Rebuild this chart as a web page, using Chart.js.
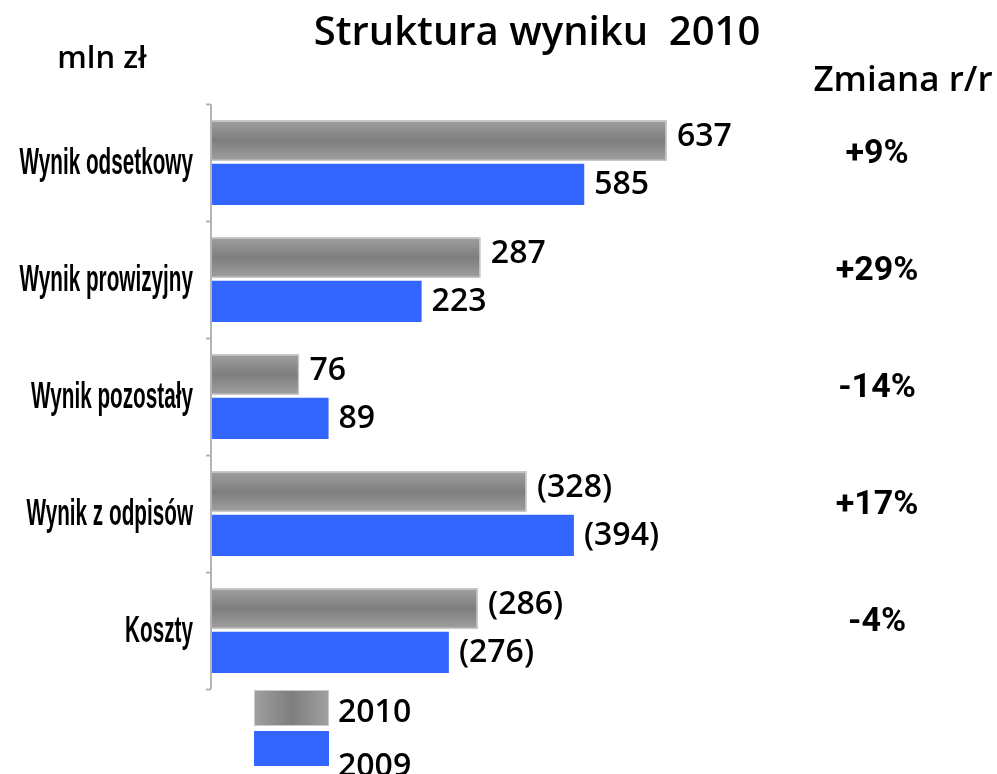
<!DOCTYPE html>
<html>
<head>
<meta charset="utf-8">
<script src="https://cdn.jsdelivr.net/npm/chart.js@4"></script>
<style>
    html, body { margin: 0; padding: 0; background: #fff; }
    #chart { display: block; }
</style>
</head>
<body>
<canvas id="chart" width="997" height="774"></canvas>
<script>
// Dane (mln zł)
const categories = ['Wynik odsetkowy', 'Wynik prowizyjny', 'Wynik pozostały', 'Wynik z odpisów', 'Koszty'];
const values2010 = [637, 287, 76, -328, -286];
const values2009 = [585, 223, 89, -394, -276];
// długości słupków tak jak na rysunku (nie są w skali wartości)
const barLen2010 = [484, 286, 93, 335, 283];
const barLen2009 = [396, 223, 124, 385, 252];
const changes = ['+9%', '+29%', '-14%', '+17%', '-4%'];
const seriesNames = ['2010', '2009'];

const BLUE = '#3366ff';

function fmt(v) {
    return v < 0 ? '(' + Math.abs(v) + ')' : String(v);
}

// gradient szarego słupka
function greyGradient(ctx, x0, y0, x1, y1) {
    const g = ctx.createLinearGradient(x0, y0, x1, y1);
    g.addColorStop(0, '#a0a0a0');
    g.addColorStop(0.5, '#7e7e7e');
    g.addColorStop(1, '#a0a0a0');
    return g;
}

const textPlugin = {
    id: 'textPlugin',
    beforeDatasetsDraw(chart) {
        const ctx = chart.ctx;
        // każdy szary słupek dostaje własny gradient
        chart.getDatasetMeta(0).data.forEach(el => {
            const g = greyGradient(ctx, 0, el.y - el.height / 2, 0, el.y + el.height / 2);
            el.options = Object.assign({}, el.options, { backgroundColor: g });
        });
    },
    afterDraw(chart) {
        const ctx = chart.ctx;
        const yScale = chart.scales.y;
        const area = chart.chartArea;
        ctx.save();

        // oś pionowa z kreskami
        const band = (area.bottom - area.top) / categories.length;
        ctx.strokeStyle = '#b4b4b4';
        ctx.lineWidth = 2;
        ctx.beginPath();
        ctx.moveTo(area.left - 1, area.top);
        ctx.lineTo(area.left - 1, area.bottom);
        for (let i = 0; i <= categories.length; i++) {
            const y = Math.round(area.top + i * band) + 0.5;
            ctx.moveTo(area.left - 6, y);
            ctx.lineTo(area.left - 1, y);
        }
        ctx.stroke();

        ctx.fillStyle = '#000';

        // tytuł i nagłówki
        ctx.textBaseline = 'alphabetic';
        ctx.textAlign = 'center';
        ctx.font = '600 40px "Open Sans"';
        ctx.fillText('Struktura wyniku  2010', 537, 45);
        ctx.font = '600 31px "Open Sans"';
        ctx.fillText('mln zł', 102, 68);
        ctx.font = '600 35px "Open Sans"';
        ctx.fillText('Zmiana r/r', 903, 91);

        // etykiety kategorii (wąskie, wydłużone)
        ctx.textAlign = 'right';
        ctx.textBaseline = 'middle';
        ctx.font = 'bold 37px "Liberation Sans"';
        categories.forEach((c, i) => {
            const y = yScale.getPixelForValue(i);
            ctx.save();
            ctx.translate(area.left - 19, y + 1);
            ctx.scale(0.56, 1);
            ctx.fillText(c, 0, 0);
            ctx.restore();
        });

        // wartości przy słupkach
        ctx.textAlign = 'left';
        ctx.font = '600 32px "Open Sans"';
        [values2010, values2009].forEach((vals, d) => {
            chart.getDatasetMeta(d).data.forEach((el, i) => {
                ctx.fillText(fmt(vals[i]), el.x + 10, el.y - (d === 0 ? 4 : 0));
            });
        });

        // zmiana r/r
        ctx.textAlign = 'center';
        ctx.font = 'bold 34px Roboto';
        changes.forEach((c, i) => {
            ctx.fillText(c, 877, yScale.getPixelForValue(i) - 8);
        });

        // legenda
        const lx = 254, lw = 75, lh = 36;
        ctx.fillStyle = greyGradient(ctx, lx, 0, lx + lw, 0);
        ctx.fillRect(lx, 690, lw, lh);
        ctx.strokeStyle = '#c9c9c9';
        ctx.lineWidth = 1;
        ctx.strokeRect(lx + 0.5, 690.5, lw - 1, lh - 1);
        ctx.fillStyle = BLUE;
        ctx.fillRect(lx, 731, lw, 35);

        ctx.fillStyle = '#000';
        ctx.textAlign = 'left';
        ctx.textBaseline = 'alphabetic';
        ctx.font = '600 32px "Open Sans"';
        ctx.fillText(seriesNames[0], 338, 722);
        ctx.fillText(seriesNames[1], 338, 776);

        ctx.restore();
    }
};

new Chart(document.getElementById('chart'), {
    type: 'bar',
    data: {
        labels: categories,
        datasets: [
            {
                label: seriesNames[0],
                data: barLen2010,
                backgroundColor: '#8a8a8a',
                borderColor: '#c9c9c9',
                borderWidth: 1.5,
                categoryPercentage: 0.75,
                barPercentage: 0.94
            },
            {
                label: seriesNames[1],
                data: barLen2009,
                backgroundColor: BLUE,
                borderWidth: 0,
                categoryPercentage: 0.75,
                barPercentage: 0.94
            }
        ]
    },
    options: {
        indexAxis: 'y',
        responsive: false,
        animation: false,
        layout: { padding: { left: 212, top: 104, bottom: 85, right: 127 } },
        scales: {
            x: { display: false, min: 0, max: 700 },
            y: { display: false }
        },
        plugins: {
            legend: { display: false },
            tooltip: { enabled: false }
        }
    },
    plugins: [textPlugin]
});
</script>
</body>
</html>
